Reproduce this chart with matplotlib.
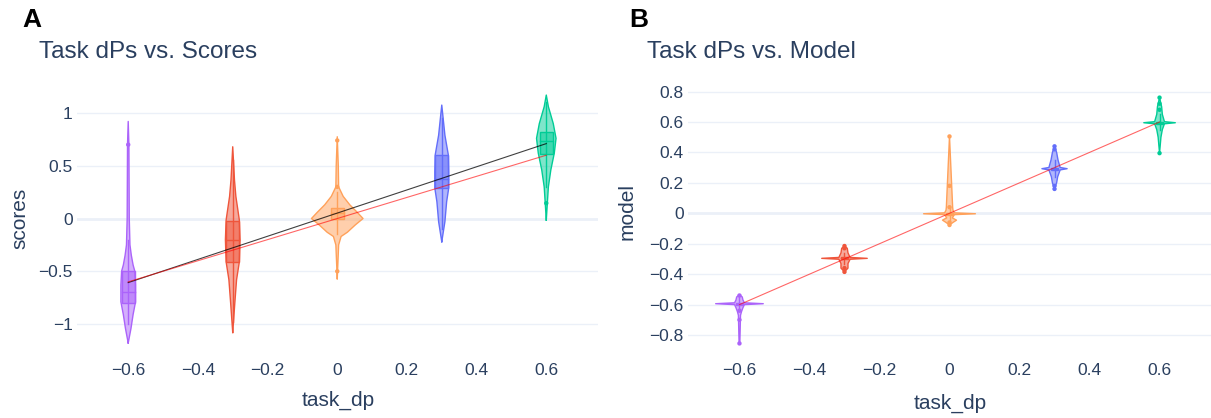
import numpy as np
import matplotlib.pyplot as plt
from matplotlib.patches import Rectangle

plt.rcParams['font.family'] = ['Liberation Sans', 'DejaVu Sans']

TXT = "#2a3f5f"
GRID = "#ebf0f8"

task_dp = [-0.6, -0.3, 0.0, 0.3, 0.6]
colors = ["#AB63FA", "#EF553B", "#FFA15A", "#636EFA", "#00CC96"]

# ---- panel A : scores ----
# violin outline: y values and half widths (x units)
scores_y = [
    [-1.18, -1.04, -0.91, -0.79, -0.63, -0.50, -0.44, -0.35, -0.25, 0.0, 0.70, 0.92],
    [-1.08, -0.80, -0.58, -0.41, -0.20, -0.015, 0.21, 0.365, 0.68],
    [-0.57, -0.25, -0.17, -0.13, -0.06, 0.0, 0.06, 0.13, 0.21, 0.30, 0.50, 0.775],
    [-0.22, -0.03, 0.16, 0.29, 0.44, 0.60, 0.79, 0.98, 1.075],
    [-0.015, 0.145, 0.30, 0.46, 0.62, 0.76, 0.90, 1.06, 1.17],
]
scores_w = [
    [0.0, 0.008, 0.014, 0.021, 0.021, 0.019, 0.014, 0.009, 0.005, 0.003, 0.002, 0.0],
    [0.0, 0.006, 0.011, 0.019, 0.021, 0.019, 0.009, 0.005, 0.0],
    [0.0, 0.004, 0.011, 0.029, 0.052, 0.074, 0.057, 0.036, 0.017, 0.004, 0.003, 0.0],
    [0.0, 0.009, 0.014, 0.020, 0.020, 0.019, 0.009, 0.003, 0.0],
    [0.0, 0.003, 0.006, 0.013, 0.023, 0.028, 0.020, 0.006, 0.0],
]
scores_q1 = [-0.80, -0.41, -0.005, 0.29, 0.61]
scores_med = [-0.70, -0.20, 0.05, 0.37, 0.73]
scores_q3 = [-0.50, -0.02, 0.10, 0.60, 0.82]
scores_lo = [-1.00, -0.98, -0.15, -0.10, 0.30]
scores_hi = [-0.20, 0.55, 0.25, 0.95, 1.10]
scores_pts = [[0.70], [], [0.74, 0.30, -0.50], [], [0.145]]

fit_x = [-0.6, 0.6]
fit_y = [-0.607, 0.71]
ident_x = [-0.6, 0.6]
ident_y = [-0.6, 0.6]

# ---- panel B : model ----
model_y = [
    [-0.86, -0.67, -0.645, -0.62, -0.600, -0.594, -0.588, -0.57, -0.55, -0.535],
    [-0.385, -0.36, -0.33, -0.302, -0.296, -0.290, -0.26, -0.23, -0.215],
    [-0.077, -0.06, -0.045, -0.03, -0.009, -0.003, 0.003, 0.02, 0.04, 0.505],
    [0.16, 0.20, 0.24, 0.285, 0.293, 0.301, 0.35, 0.40, 0.44],
    [0.395, 0.50, 0.55, 0.588, 0.595, 0.602, 0.65, 0.70, 0.76],
]
model_w = [
    [0.001, 0.003, 0.006, 0.010, 0.014, 0.068, 0.014, 0.010, 0.008, 0.0],
    [0.0, 0.010, 0.010, 0.016, 0.065, 0.016, 0.010, 0.008, 0.0],
    [0.0, 0.010, 0.020, 0.008, 0.014, 0.074, 0.014, 0.010, 0.009, 0.0],
    [0.0, 0.006, 0.009, 0.016, 0.036, 0.016, 0.010, 0.006, 0.0],
    [0.0, 0.004, 0.008, 0.014, 0.045, 0.014, 0.008, 0.006, 0.0],
]
model_q1 = [-0.603, -0.303, -0.008, 0.286, 0.589]
model_med = [-0.595, -0.296, -0.003, 0.293, 0.595]
model_q3 = [-0.587, -0.289, 0.003, 0.300, 0.601]
model_lo = [-0.64, -0.33, -0.05, 0.24, 0.55]
model_hi = [-0.55, -0.26, 0.04, 0.35, 0.65]
model_pts = [[-0.54, -0.64, -0.70, -0.855],
             [-0.215, -0.23, -0.36, -0.385],
             [0.505, 0.18, 0.04, -0.06, -0.077],
             [0.44, 0.42, 0.18, 0.16],
             [0.76, 0.72, 0.68, 0.395]]


def draw_violin(ax, x0, ys, ws, q1, med, q3, lo, hi, pts, color, bw):
    ys = np.array(ys)
    ws = np.array(ws)
    ax.fill_betweenx(ys, x0 - ws, x0 + ws, facecolor=color, alpha=0.5,
                     edgecolor="none", zorder=2)
    ax.plot(np.r_[x0 - ws, (x0 + ws)[::-1], x0 - ws[0]],
            np.r_[ys, ys[::-1], ys[0]], color=color, lw=1, zorder=3)
    ax.plot([x0, x0], [lo, hi], color=color, lw=1, zorder=3)
    ax.add_patch(Rectangle((x0 - bw, q1), 2 * bw, q3 - q1, facecolor=color,
                           alpha=0.5, edgecolor="none", zorder=3))
    ax.add_patch(Rectangle((x0 - bw, q1), 2 * bw, q3 - q1, facecolor="none",
                           edgecolor=color, lw=1, zorder=3))
    ax.plot([x0 - bw, x0 + bw], [med, med], color=color, lw=1, zorder=3)
    if pts:
        ax.scatter([x0] * len(pts), pts, s=10, color=color, zorder=4,
                   edgecolors="none")


def style(ax, yticks, ylabels):
    for s in ax.spines.values():
        s.set_visible(False)
    ax.set_xlim(-0.747, 0.747)
    ax.set_xticks([-0.6, -0.4, -0.2, 0, 0.2, 0.4, 0.6])
    ax.set_xticklabels(["\u22120.6", "\u22120.4", "\u22120.2", "0", "0.2", "0.4", "0.6"])
    ax.set_yticks(yticks)
    ax.set_yticklabels(ylabels)
    ax.tick_params(length=0, labelsize=12.5, labelcolor=TXT)
    ax.tick_params(axis="x", pad=11)
    ax.tick_params(axis="y", pad=3)
    for t in yticks:
        ax.axhline(t, color=GRID, lw=2 if t == 0 else 1, zorder=0)


fig = plt.figure(figsize=(12.11, 4.18), dpi=100)
W, H = 1211, 418

axA = fig.add_axes([77 / W, 70 / H, 520.5 / W, 258 / H])
axB = fig.add_axes([688 / W, 70 / H, 523 / W, 258 / H])

for i in range(5):
    draw_violin(axA, task_dp[i], scores_y[i], scores_w[i], scores_q1[i],
                scores_med[i], scores_q3[i], scores_lo[i], scores_hi[i],
                scores_pts[i], colors[i], 0.019)
    draw_violin(axB, task_dp[i], model_y[i], model_w[i], model_q1[i],
                model_med[i], model_q3[i], model_lo[i], model_hi[i],
                model_pts[i], colors[i], 0.010)

axA.plot(fit_x, fit_y, color="black", lw=0.8, alpha=0.75, zorder=5)
axA.plot(ident_x, ident_y, color="red", lw=0.8, alpha=0.6, zorder=5)
axB.plot(ident_x, ident_y, color="red", lw=0.8, alpha=0.6, zorder=5)

style(axA, [-1, -0.5, 0, 0.5, 1], ["\u22121", "\u22120.5", "0", "0.5", "1"])
axA.set_ylim(-1.227, 1.218)
style(axB, [-0.8, -0.6, -0.4, -0.2, 0, 0.2, 0.4, 0.6, 0.8],
      ["\u22120.8", "\u22120.6", "\u22120.4", "\u22120.2", "0", "0.2", "0.4", "0.6", "0.8"])
axB.set_ylim(-0.885, 0.81)


def ftext(x, y, s, **kw):
    fig.text(x / W, 1 - y / H, s, **kw)


ftext(22, 27, "A", fontsize=19, fontweight="bold", color="black", va="baseline")
ftext(629, 27, "B", fontsize=19, fontweight="bold", color="black", va="baseline")
ftext(39, 58, "Task dPs vs. Scores", fontsize=17.5, color=TXT, va="baseline")
ftext(647, 58, "Task dPs vs. Model", fontsize=17.5, color=TXT, va="baseline")
ftext(338, 400, "task_dp", fontsize=15, color=TXT, ha="center", va="center")
ftext(950, 403, "task_dp", fontsize=15, color=TXT, ha="center", va="center")
ftext(20, 218, "scores", fontsize=15, color=TXT, ha="center", va="center", rotation=90)
ftext(627, 212, "model", fontsize=15, color=TXT, ha="center", va="center", rotation=90)

fig.savefig("out.png", dpi=100, facecolor="white")
